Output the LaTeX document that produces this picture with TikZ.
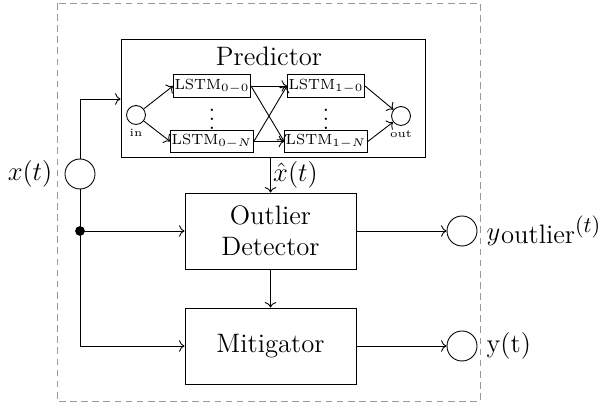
\documentclass[tikz,border=0pt]{standalone}
\usetikzlibrary{arrows.meta}
\begin{document}
\begin{tikzpicture}[x=0.45pt,y=-0.45pt,
  block/.style={draw,rectangle,minimum width=76.95pt,minimum height=34.2pt,font=\large,align=center,inner sep=0pt},
  lstm/.style={draw,rectangle,minimum width=31.5pt,minimum height=10pt,inner sep=0.5pt,font=\fontsize{6.6}{7}\selectfont},
  port/.style={draw,circle,fill=white,minimum size=13.5pt,inner sep=0pt},
  small port/.style={draw,circle,fill=white,minimum size=8.5pt,inner sep=0pt},
  conn/.style={->},
  tag/.style={font=\large,inner sep=1pt}]
\useasboundingbox (0,0) rectangle (605,407);

% system boundary
\draw[gray!80,dash pattern=on 3pt off 2pt] (57,3) rectangle (480,401);

% predictor network
\node[draw,rectangle,minimum width=136.8pt,minimum height=53.1pt,inner sep=0pt] (pred) at (273,98) {};
\node[font=\large,anchor=base,inner sep=0pt] (ptitle) at (269,66) {Predictor};
\node[lstm] (l00) at (212,86) {LSTM$_{0-0}$};
\node[lstm] (l0N) at (212,141.5) {LSTM$_{0-N}$};
\node[lstm] (l10) at (326,86) {LSTM$_{1-0}$};
\node[lstm] (l1N) at (326,141.5) {LSTM$_{1-N}$};
\node[inner sep=0pt] (d0) at (212,113) {$\vdots$};
\node[inner sep=0pt] (d1) at (326,113) {$\vdots$};
\node[small port] (cin) at (136,115) {};
\node[small port] (cout) at (401,116) {};
\node[font=\tiny,inner sep=0pt] (lin) at (136,133) {in};
\node[font=\tiny,inner sep=0pt] (lout) at (401,134) {out};
\draw[conn] (cin) -- (l00.west);
\draw[conn] (cin) -- (l0N.west);
\draw[conn] (l00.east) -- (l10.west);
\draw[conn] (l00.east) -- (l1N.west);
\draw[conn] (l0N.east) -- (l10.west);
\draw[conn] (l0N.east) -- (l1N.west);
\draw[conn] (l10.east) -- (cout);
\draw[conn] (l1N.east) -- (cout);

% input port
\node[port] (xc) at (80,174) {};
\node[tag,anchor=east] (xl) at (55,174) {$x(t)$};

% detector and mitigator
\node[block] (det) at (270.5,231) {Outlier\\Detector};
\node[block] (mit) at (270.5,346) {Mitigator};

% output ports
\node[port] (yoc) at (462,231) {};
\node[port] (yc) at (462,346) {};
\node[tag,anchor=west] (yol) at (484,231)
  {$y$\kern0.3pt\raisebox{-1.5pt}{outlier}\raisebox{3.5pt}{\normalsize$(t)$}};
\node[tag,anchor=west] (yl) at (484,346) {y(t)};

% connections
\coordinate (up) at (80,99);
\coordinate (dot) at (80,231);
\coordinate (down) at (80,346);
\draw[conn] (xc.north) -- (up) -- (up -| pred.west);
\draw (xc.south) -- (dot);
\fill (dot) circle (2.2pt);
\draw[conn] (dot) -- (det.west);
\draw[conn] (dot) -- (down) -- (mit.west);
\draw[conn] (pred.south -| det.north) -- node[right,tag,pos=0.5] {$\hat{x}(t)$} (det.north);
\draw[conn] (det.south) -- (mit.north);
\draw[conn] (det.east) -- (yoc.west);
\draw[conn] (mit.east) -- (yc.west);
\end{tikzpicture}
\end{document}
